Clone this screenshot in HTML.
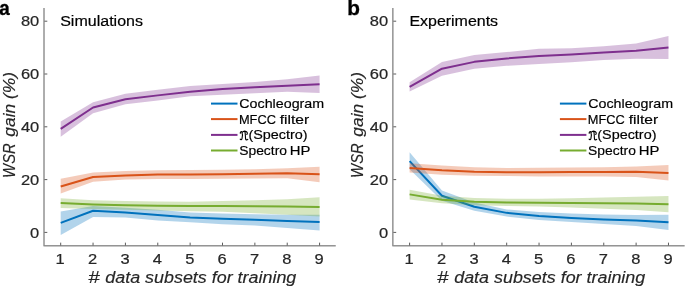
<!DOCTYPE html>
<html><head><meta charset="utf-8"><style>
html,body{margin:0;padding:0;background:#fff;width:685px;height:286px;overflow:hidden}
svg{display:block;will-change:transform;font-family:"Liberation Sans",sans-serif}
</style></head><body>
<svg width="685" height="286" viewBox="0 0 685 286">
<polygon points="60.70,211.54 93.06,206.00 125.42,207.85 157.78,209.70 190.14,212.60 222.50,213.39 254.86,214.18 287.22,214.71 319.58,214.71 319.58,230.55 287.22,227.91 254.86,225.54 222.50,224.22 190.14,222.37 157.78,220.52 125.42,217.62 93.06,217.09 60.70,235.04" fill="#0072BD" fill-opacity="0.3"/>
<polyline points="60.70,222.90 93.06,210.75 125.42,212.60 157.78,214.98 190.14,217.62 222.50,218.67 254.86,219.73 287.22,221.05 319.58,222.10" fill="none" stroke="#0072BD" stroke-width="2" stroke-linejoin="round"/>
<polygon points="60.70,178.81 93.06,172.60 125.42,170.89 157.78,170.36 190.14,170.10 222.50,169.83 254.86,169.30 287.22,168.25 319.58,166.66 319.58,182.24 287.22,178.28 254.86,178.54 222.50,178.81 190.14,179.07 157.78,179.07 125.42,179.60 93.06,181.71 60.70,193.59" fill="#D95319" fill-opacity="0.3"/>
<polyline points="60.70,186.46 93.06,176.96 125.42,175.38 157.78,174.58 190.14,174.58 222.50,174.32 254.86,173.79 287.22,173.26 319.58,174.32" fill="none" stroke="#D95319" stroke-width="2" stroke-linejoin="round"/>
<polygon points="60.70,121.52 93.06,102.25 125.42,93.80 157.78,89.84 190.14,85.88 222.50,84.03 254.86,81.92 287.22,79.28 319.58,75.58 319.58,93.01 287.22,91.69 254.86,93.14 222.50,94.86 190.14,96.31 157.78,100.40 125.42,104.36 93.06,113.34 60.70,136.83" fill="#7E2F8E" fill-opacity="0.3"/>
<polyline points="60.70,128.91 93.06,107.53 125.42,99.34 157.78,95.38 190.14,91.69 222.50,89.05 254.86,87.33 287.22,85.75 319.58,84.30" fill="none" stroke="#7E2F8E" stroke-width="2" stroke-linejoin="round"/>
<polygon points="60.70,198.34 93.06,200.19 125.42,200.98 157.78,201.51 190.14,201.78 222.50,200.98 254.86,200.19 287.22,199.14 319.58,197.29 319.58,216.56 287.22,214.71 254.86,213.13 222.50,211.81 190.14,211.28 157.78,210.49 125.42,209.70 93.06,208.90 60.70,208.11" fill="#77AC30" fill-opacity="0.3"/>
<polyline points="60.70,203.10 93.06,204.42 125.42,205.21 157.78,205.74 190.14,206.00 222.50,206.00 254.86,206.26 287.22,206.53 319.58,207.06" fill="none" stroke="#77AC30" stroke-width="2" stroke-linejoin="round"/>
<g stroke="#262626" stroke-opacity="0.75" stroke-width="1">
<line x1="44.00" y1="8.00" x2="44.00" y2="246.35"/>
<line x1="44.50" y1="245.85" x2="335.76" y2="245.85"/>
</g>
<line x1="44.50" y1="232.40" x2="47.30" y2="232.40" stroke="#262626" stroke-opacity="0.75" stroke-width="1"/>
<text transform="translate(30.07,237.50) scale(1.0700,1)" font-size="15.40" fill="#262626" stroke="#262626" stroke-width="0.22">0</text>
<line x1="44.50" y1="179.60" x2="47.30" y2="179.60" stroke="#262626" stroke-opacity="0.75" stroke-width="1"/>
<text transform="translate(20.93,184.70) scale(1.0700,1)" font-size="15.40" fill="#262626" stroke="#262626" stroke-width="0.22">20</text>
<line x1="44.50" y1="126.80" x2="47.30" y2="126.80" stroke="#262626" stroke-opacity="0.75" stroke-width="1"/>
<text transform="translate(20.93,131.90) scale(1.0700,1)" font-size="15.40" fill="#262626" stroke="#262626" stroke-width="0.22">40</text>
<line x1="44.50" y1="74.00" x2="47.30" y2="74.00" stroke="#262626" stroke-opacity="0.75" stroke-width="1"/>
<text transform="translate(20.93,79.10) scale(1.0700,1)" font-size="15.40" fill="#262626" stroke="#262626" stroke-width="0.22">60</text>
<line x1="44.50" y1="21.20" x2="47.30" y2="21.20" stroke="#262626" stroke-opacity="0.75" stroke-width="1"/>
<text transform="translate(20.93,26.30) scale(1.0700,1)" font-size="15.40" fill="#262626" stroke="#262626" stroke-width="0.22">80</text>
<line x1="60.70" y1="245.35" x2="60.70" y2="242.65" stroke="#262626" stroke-opacity="0.75" stroke-width="1"/>
<text transform="translate(55.50,263.90) scale(1.0700,1)" font-size="15.40" fill="#262626" stroke="#262626" stroke-width="0.22">1</text>
<line x1="93.06" y1="245.35" x2="93.06" y2="242.65" stroke="#262626" stroke-opacity="0.75" stroke-width="1"/>
<text transform="translate(88.09,263.90) scale(1.0700,1)" font-size="15.40" fill="#262626" stroke="#262626" stroke-width="0.22">2</text>
<line x1="125.42" y1="245.35" x2="125.42" y2="242.65" stroke="#262626" stroke-opacity="0.75" stroke-width="1"/>
<text transform="translate(120.49,263.90) scale(1.0700,1)" font-size="15.40" fill="#262626" stroke="#262626" stroke-width="0.22">3</text>
<line x1="157.78" y1="245.35" x2="157.78" y2="242.65" stroke="#262626" stroke-opacity="0.75" stroke-width="1"/>
<text transform="translate(152.85,263.90) scale(1.0700,1)" font-size="15.40" fill="#262626" stroke="#262626" stroke-width="0.22">4</text>
<line x1="190.14" y1="245.35" x2="190.14" y2="242.65" stroke="#262626" stroke-opacity="0.75" stroke-width="1"/>
<text transform="translate(185.17,263.90) scale(1.0700,1)" font-size="15.40" fill="#262626" stroke="#262626" stroke-width="0.22">5</text>
<line x1="222.50" y1="245.35" x2="222.50" y2="242.65" stroke="#262626" stroke-opacity="0.75" stroke-width="1"/>
<text transform="translate(217.47,263.90) scale(1.0700,1)" font-size="15.40" fill="#262626" stroke="#262626" stroke-width="0.22">6</text>
<line x1="254.86" y1="245.35" x2="254.86" y2="242.65" stroke="#262626" stroke-opacity="0.75" stroke-width="1"/>
<text transform="translate(249.89,263.90) scale(1.0700,1)" font-size="15.40" fill="#262626" stroke="#262626" stroke-width="0.22">7</text>
<line x1="287.22" y1="245.35" x2="287.22" y2="242.65" stroke="#262626" stroke-opacity="0.75" stroke-width="1"/>
<text transform="translate(282.25,263.90) scale(1.0700,1)" font-size="15.40" fill="#262626" stroke="#262626" stroke-width="0.22">8</text>
<line x1="319.58" y1="245.35" x2="319.58" y2="242.65" stroke="#262626" stroke-opacity="0.75" stroke-width="1"/>
<text transform="translate(314.59,263.90) scale(1.0700,1)" font-size="15.40" fill="#262626" stroke="#262626" stroke-width="0.22">9</text>
<polygon points="409.60,152.14 441.96,190.42 474.32,202.57 506.68,209.43 539.04,212.07 571.40,213.39 603.76,214.45 636.12,214.98 668.48,214.71 668.48,230.02 636.12,226.06 603.76,223.95 571.40,222.10 539.04,219.99 506.68,216.56 474.32,210.75 441.96,200.72 409.60,169.30" fill="#0072BD" fill-opacity="0.3"/>
<polyline points="409.60,161.12 441.96,195.70 474.32,206.79 506.68,212.86 539.04,216.03 571.40,217.88 603.76,219.46 636.12,220.52 668.48,222.37" fill="none" stroke="#0072BD" stroke-width="2" stroke-linejoin="round"/>
<polygon points="409.60,163.23 441.96,165.61 474.32,167.32 506.68,167.98 539.04,167.72 571.40,167.46 603.76,167.19 636.12,166.40 668.48,165.08 668.48,180.52 636.12,176.96 603.76,176.43 571.40,176.43 539.04,176.43 506.68,175.90 474.32,175.77 441.96,174.85 409.60,172.47" fill="#D95319" fill-opacity="0.3"/>
<polyline points="409.60,167.98 441.96,170.36 474.32,171.68 506.68,172.21 539.04,172.21 571.40,171.94 603.76,171.94 636.12,171.68 668.48,173.00" fill="none" stroke="#D95319" stroke-width="2" stroke-linejoin="round"/>
<polygon points="409.60,82.18 441.96,61.99 474.32,54.99 506.68,52.09 539.04,48.79 571.40,48.13 603.76,46.28 636.12,43.38 668.48,35.98 668.48,58.95 636.12,58.69 603.76,60.01 571.40,62.25 539.04,63.97 506.68,65.82 474.32,68.72 441.96,75.85 409.60,91.42" fill="#7E2F8E" fill-opacity="0.3"/>
<polyline points="409.60,86.94 441.96,68.72 474.32,61.86 506.68,58.42 539.04,56.05 571.40,54.46 603.76,52.62 636.12,50.77 668.48,47.60" fill="none" stroke="#7E2F8E" stroke-width="2" stroke-linejoin="round"/>
<polygon points="409.60,189.76 441.96,195.70 474.32,198.08 506.68,198.87 539.04,198.87 571.40,198.34 603.76,197.55 636.12,196.76 668.48,195.97 668.48,212.34 636.12,209.96 603.76,208.64 571.40,207.58 539.04,206.53 506.68,206.00 474.32,205.21 441.96,203.36 409.60,199.40" fill="#77AC30" fill-opacity="0.3"/>
<polyline points="409.60,194.38 441.96,199.80 474.32,201.78 506.68,202.57 539.04,202.83 571.40,203.10 603.76,203.36 636.12,203.62 668.48,204.15" fill="none" stroke="#77AC30" stroke-width="2" stroke-linejoin="round"/>
<g stroke="#262626" stroke-opacity="0.75" stroke-width="1">
<line x1="392.90" y1="8.00" x2="392.90" y2="246.35"/>
<line x1="393.40" y1="245.85" x2="684.66" y2="245.85"/>
</g>
<line x1="393.40" y1="232.40" x2="396.20" y2="232.40" stroke="#262626" stroke-opacity="0.75" stroke-width="1"/>
<text transform="translate(378.97,237.50) scale(1.0700,1)" font-size="15.40" fill="#262626" stroke="#262626" stroke-width="0.22">0</text>
<line x1="393.40" y1="179.60" x2="396.20" y2="179.60" stroke="#262626" stroke-opacity="0.75" stroke-width="1"/>
<text transform="translate(369.83,184.70) scale(1.0700,1)" font-size="15.40" fill="#262626" stroke="#262626" stroke-width="0.22">20</text>
<line x1="393.40" y1="126.80" x2="396.20" y2="126.80" stroke="#262626" stroke-opacity="0.75" stroke-width="1"/>
<text transform="translate(369.83,131.90) scale(1.0700,1)" font-size="15.40" fill="#262626" stroke="#262626" stroke-width="0.22">40</text>
<line x1="393.40" y1="74.00" x2="396.20" y2="74.00" stroke="#262626" stroke-opacity="0.75" stroke-width="1"/>
<text transform="translate(369.83,79.10) scale(1.0700,1)" font-size="15.40" fill="#262626" stroke="#262626" stroke-width="0.22">60</text>
<line x1="393.40" y1="21.20" x2="396.20" y2="21.20" stroke="#262626" stroke-opacity="0.75" stroke-width="1"/>
<text transform="translate(369.83,26.30) scale(1.0700,1)" font-size="15.40" fill="#262626" stroke="#262626" stroke-width="0.22">80</text>
<line x1="409.60" y1="245.35" x2="409.60" y2="242.65" stroke="#262626" stroke-opacity="0.75" stroke-width="1"/>
<text transform="translate(404.40,263.90) scale(1.0700,1)" font-size="15.40" fill="#262626" stroke="#262626" stroke-width="0.22">1</text>
<line x1="441.96" y1="245.35" x2="441.96" y2="242.65" stroke="#262626" stroke-opacity="0.75" stroke-width="1"/>
<text transform="translate(436.99,263.90) scale(1.0700,1)" font-size="15.40" fill="#262626" stroke="#262626" stroke-width="0.22">2</text>
<line x1="474.32" y1="245.35" x2="474.32" y2="242.65" stroke="#262626" stroke-opacity="0.75" stroke-width="1"/>
<text transform="translate(469.39,263.90) scale(1.0700,1)" font-size="15.40" fill="#262626" stroke="#262626" stroke-width="0.22">3</text>
<line x1="506.68" y1="245.35" x2="506.68" y2="242.65" stroke="#262626" stroke-opacity="0.75" stroke-width="1"/>
<text transform="translate(501.75,263.90) scale(1.0700,1)" font-size="15.40" fill="#262626" stroke="#262626" stroke-width="0.22">4</text>
<line x1="539.04" y1="245.35" x2="539.04" y2="242.65" stroke="#262626" stroke-opacity="0.75" stroke-width="1"/>
<text transform="translate(534.07,263.90) scale(1.0700,1)" font-size="15.40" fill="#262626" stroke="#262626" stroke-width="0.22">5</text>
<line x1="571.40" y1="245.35" x2="571.40" y2="242.65" stroke="#262626" stroke-opacity="0.75" stroke-width="1"/>
<text transform="translate(566.37,263.90) scale(1.0700,1)" font-size="15.40" fill="#262626" stroke="#262626" stroke-width="0.22">6</text>
<line x1="603.76" y1="245.35" x2="603.76" y2="242.65" stroke="#262626" stroke-opacity="0.75" stroke-width="1"/>
<text transform="translate(598.79,263.90) scale(1.0700,1)" font-size="15.40" fill="#262626" stroke="#262626" stroke-width="0.22">7</text>
<line x1="636.12" y1="245.35" x2="636.12" y2="242.65" stroke="#262626" stroke-opacity="0.75" stroke-width="1"/>
<text transform="translate(631.15,263.90) scale(1.0700,1)" font-size="15.40" fill="#262626" stroke="#262626" stroke-width="0.22">8</text>
<line x1="668.48" y1="245.35" x2="668.48" y2="242.65" stroke="#262626" stroke-opacity="0.75" stroke-width="1"/>
<text transform="translate(663.49,263.90) scale(1.0700,1)" font-size="15.40" fill="#262626" stroke="#262626" stroke-width="0.22">9</text>
<line x1="211.00" y1="103.60" x2="237.50" y2="103.60" stroke="#0072BD" stroke-width="2"/>
<text transform="translate(239.29,108.00) scale(1.0986,1)" font-size="13.00" fill="#000" stroke="#000" stroke-width="0.18">Cochleogram</text>
<line x1="211.00" y1="119.10" x2="237.50" y2="119.10" stroke="#D95319" stroke-width="2"/>
<text transform="translate(238.94,123.50) scale(0.9867,1)" font-size="13.00" fill="#000" stroke="#000" stroke-width="0.18">MFCC</text>
<text transform="translate(279.77,123.50) scale(1.1993,1)" font-size="13.00" fill="#000" stroke="#000" stroke-width="0.18">filter</text>
<line x1="211.00" y1="134.90" x2="237.50" y2="134.90" stroke="#7E2F8E" stroke-width="2"/>
<path transform="translate(239.90,130.90)" d="M0.4,2.4 C0.3,1.2 1.1,0.4 2.0,0.8 M1.9,0.9 C2.6,2.5 2.5,6.3 2.1,7.7 C1.8,8.8 0.9,9.1 0.3,8.3 M2.3,1.6 C3.3,0.3 5.2,0.0 6.6,0.8 C7.6,1.5 7.7,2.9 6.9,3.6 M5.0,1.0 C5.7,3.0 5.4,6.4 5.7,8.1 C6.0,9.2 7.1,9.3 7.9,8.4" fill="none" stroke="#000" stroke-width="1.1" stroke-linecap="round"/>
<text transform="translate(248.40,139.30) scale(1.1066,1)" font-size="13.00" fill="#000" stroke="#000" stroke-width="0.18">(Spectro)</text>
<line x1="211.00" y1="150.50" x2="237.50" y2="150.50" stroke="#77AC30" stroke-width="2"/>
<text transform="translate(239.18,154.90) scale(1.0668,1)" font-size="13.00" fill="#000" stroke="#000" stroke-width="0.18">Spectro</text>
<text transform="translate(289.87,154.90) scale(1.1462,1)" font-size="13.00" fill="#000" stroke="#000" stroke-width="0.18">HP</text>
<line x1="559.90" y1="103.60" x2="586.40" y2="103.60" stroke="#0072BD" stroke-width="2"/>
<text transform="translate(588.19,108.00) scale(1.0986,1)" font-size="13.00" fill="#000" stroke="#000" stroke-width="0.18">Cochleogram</text>
<line x1="559.90" y1="119.10" x2="586.40" y2="119.10" stroke="#D95319" stroke-width="2"/>
<text transform="translate(587.84,123.50) scale(0.9867,1)" font-size="13.00" fill="#000" stroke="#000" stroke-width="0.18">MFCC</text>
<text transform="translate(628.67,123.50) scale(1.1993,1)" font-size="13.00" fill="#000" stroke="#000" stroke-width="0.18">filter</text>
<line x1="559.90" y1="134.90" x2="586.40" y2="134.90" stroke="#7E2F8E" stroke-width="2"/>
<path transform="translate(588.80,130.90)" d="M0.4,2.4 C0.3,1.2 1.1,0.4 2.0,0.8 M1.9,0.9 C2.6,2.5 2.5,6.3 2.1,7.7 C1.8,8.8 0.9,9.1 0.3,8.3 M2.3,1.6 C3.3,0.3 5.2,0.0 6.6,0.8 C7.6,1.5 7.7,2.9 6.9,3.6 M5.0,1.0 C5.7,3.0 5.4,6.4 5.7,8.1 C6.0,9.2 7.1,9.3 7.9,8.4" fill="none" stroke="#000" stroke-width="1.1" stroke-linecap="round"/>
<text transform="translate(597.30,139.30) scale(1.1066,1)" font-size="13.00" fill="#000" stroke="#000" stroke-width="0.18">(Spectro)</text>
<line x1="559.90" y1="150.50" x2="586.40" y2="150.50" stroke="#77AC30" stroke-width="2"/>
<text transform="translate(588.08,154.90) scale(1.0668,1)" font-size="13.00" fill="#000" stroke="#000" stroke-width="0.18">Spectro</text>
<text transform="translate(638.77,154.90) scale(1.1462,1)" font-size="13.00" fill="#000" stroke="#000" stroke-width="0.18">HP</text>
<text transform="translate(60.18,26.40) scale(1.0478,1)" font-size="15.30" fill="#000" stroke="#000" stroke-width="0.20">Simulations</text>
<text transform="translate(409.38,26.30) scale(1.0441,1)" font-size="15.30" fill="#000" stroke="#000" stroke-width="0.20">Experiments</text>
<text transform="translate(-0.64,15.10) scale(0.9700,1)" font-size="19.50" font-weight="bold" fill="#000" stroke="#000" stroke-width="0.30">a</text>
<text transform="translate(347.15,15.00) scale(1.0663,1)" font-size="19.50" font-weight="bold" fill="#000" stroke="#000" stroke-width="0.30">b</text>
<text transform="translate(88.19,282.50) scale(1.2729,1)" font-size="16.00" font-style="italic" fill="#262626" stroke="#262626" stroke-width="0.15">#</text>
<text transform="translate(105.32,282.50) scale(1.1192,1)" font-size="16.00" font-style="italic" fill="#262626" stroke="#262626" stroke-width="0.15">data subsets for training</text>
<text transform="translate(14.50,177.90) rotate(-90) scale(0.9312,1)" font-size="16.00" font-style="italic" fill="#262626" stroke="#262626" stroke-width="0.15">WSR</text>
<text transform="translate(14.50,136.64) rotate(-90) scale(1.0844,1)" font-size="16.00" font-style="italic" fill="#262626" stroke="#262626" stroke-width="0.15">gain (%)</text>
<text transform="translate(437.09,282.50) scale(1.2729,1)" font-size="16.00" font-style="italic" fill="#262626" stroke="#262626" stroke-width="0.15">#</text>
<text transform="translate(454.22,282.50) scale(1.1192,1)" font-size="16.00" font-style="italic" fill="#262626" stroke="#262626" stroke-width="0.15">data subsets for training</text>
<text transform="translate(363.40,177.90) rotate(-90) scale(0.9312,1)" font-size="16.00" font-style="italic" fill="#262626" stroke="#262626" stroke-width="0.15">WSR</text>
<text transform="translate(363.40,136.64) rotate(-90) scale(1.0844,1)" font-size="16.00" font-style="italic" fill="#262626" stroke="#262626" stroke-width="0.15">gain (%)</text>
</svg>
</body></html>
